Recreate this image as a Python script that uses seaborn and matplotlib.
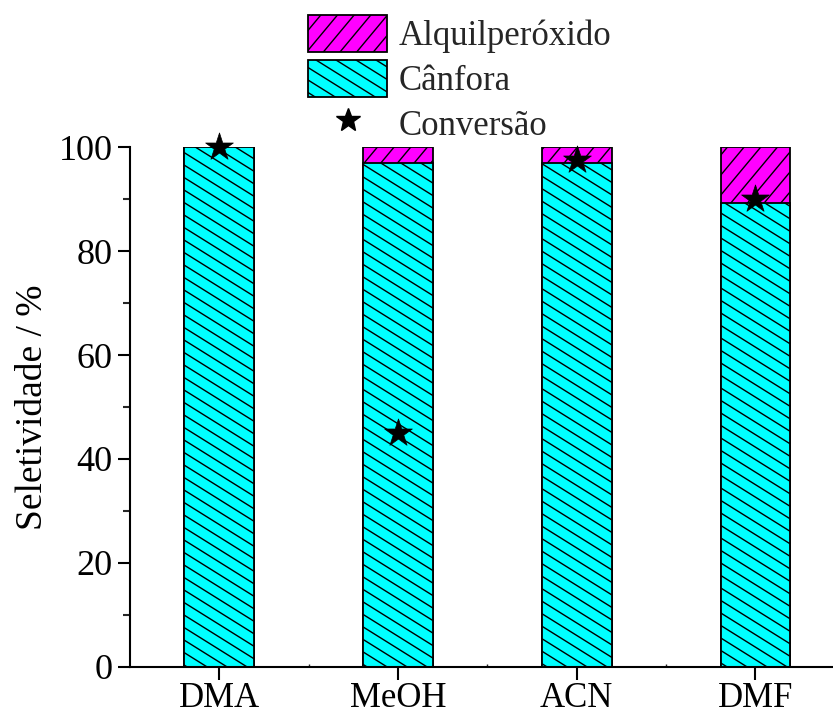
import warnings
import functools
import numpy as np
import matplotlib
matplotlib.use("Agg")
import matplotlib.pyplot as plt
import matplotlib.hatch as mhatch
from matplotlib.path import Path
import seaborn as sns
import pandas as pd
from matplotlib.patches import Patch
from matplotlib.lines import Line2D
from matplotlib.ticker import MultipleLocator, FixedLocator

warnings.filterwarnings("ignore")

# Selectivity per solvent (%)
solventes = ["DMA", "MeOH", "ACN", "DMF"]
canfora = [100.0, 97.0, 97.0, 89.3]
alquilperoxido = [0.0, 3.0, 3.0, 10.7]
conversao = [100.0, 45.0, 97.5, 90.0]

df = pd.DataFrame({
    "solvente": solventes,
    "canfora": canfora,
    "total": [c + a for c, a in zip(canfora, alquilperoxido)],
    "conversao": conversao,
})


class SlantHatch(mhatch.HatchPatternBase):
    """Periodic slanted hatch: n lines per tile height, slope m/n (sign sets direction)."""

    def __init__(self, hatch, density, char="c", n=10, m=6, sign=-1):
        self.n, self.m, self.sign = n, m, sign
        self.num_lines = (n + m + 1) if char in hatch else 0
        self.num_vertices = 2 * self.num_lines

    def set_vertices_and_codes(self, vertices, codes):
        n, m, sign = self.n, self.m, self.sign
        s = m / n
        if sign < 0:
            cs = np.arange(0, n + m + 1) / n
        else:
            cs = np.arange(-m, n + 1) / n
        vertices[0::2, 0] = 0.0
        vertices[0::2, 1] = cs
        vertices[1::2, 0] = 1.0
        vertices[1::2, 1] = cs + sign * s
        codes[0::2] = Path.MOVETO
        codes[1::2] = Path.LINETO


mhatch._hatch_types.append(functools.partial(SlantHatch, char="c", n=8, m=5, sign=-1))
mhatch._hatch_types.append(functools.partial(SlantHatch, char="m", n=5, m=6, sign=1))

sns.set_theme(style="ticks")
plt.rcParams["font.family"] = ["Liberation Serif", "DejaVu Serif"]
plt.rcParams["hatch.linewidth"] = 1.0

fig = plt.figure(figsize=(8.33, 7.14), dpi=100)
ax = fig.add_axes([0.156, 0.066, 0.844, 0.728])

magenta = "#ff00ff"
ciano = "#00ffff"

# stacked bars: total (alquilperóxido on top) drawn first, cânfora over it
sns.barplot(data=df, x="solvente", y="total", color=magenta, saturation=1,
            width=0.39, edgecolor="black", linewidth=1.3, ax=ax)
n = len(ax.patches)
sns.barplot(data=df, x="solvente", y="canfora", color=ciano, saturation=1,
            width=0.39, edgecolor="black", linewidth=1.3, ax=ax)
for i, p in enumerate(ax.patches):
    p.set_hatch("m" if i < n else "c")

sns.scatterplot(data=df, x="solvente", y="conversao", marker="*", s=440,
                color="black", edgecolor="black", linewidth=0.5, zorder=5,
                clip_on=False, ax=ax, legend=False)

ax.set_ylim(0, 100)
ax.set_xlim(-0.5, 3.434)
ax.yaxis.set_major_locator(MultipleLocator(20))
ax.yaxis.set_minor_locator(MultipleLocator(10))
ax.xaxis.set_minor_locator(FixedLocator([0.5, 1.5, 2.5]))
ax.tick_params(axis="y", which="major", direction="out", length=9,
               width=1.5, labelsize=26, colors="black")
ax.tick_params(axis="x", which="major", direction="out", length=9,
               width=1.5, labelsize=25, colors="black", pad=2)
ax.tick_params(axis="y", which="minor", direction="out", length=5, width=1.5)
ax.tick_params(axis="x", which="minor", direction="in", length=2, width=1)
ax.set_xlabel("")
ax.set_ylabel("Seletividade / %", fontsize=27, color="black", labelpad=6)
for s in ["top", "right"]:
    ax.spines[s].set_visible(False)
for s in ["left", "bottom"]:
    ax.spines[s].set_linewidth(1.5)
    ax.spines[s].set_color("black")

handles = [
    Patch(facecolor=magenta, edgecolor="black", hatch="m", linewidth=1.3),
    Patch(facecolor=ciano, edgecolor="black", hatch="c", linewidth=1.3),
    Line2D([], [], marker="*", linestyle="none", color="black", markersize=18),
]
fig.legend(handles, ["Alquilperóxido", "Cânfora", "Conversão"],
           loc="upper left", bbox_to_anchor=(0.370, 0.979), frameon=False,
           prop={"family": "Liberation Serif", "size": 25},
           borderpad=0, borderaxespad=0, handlelength=2.28,
           handleheight=1.25, handletextpad=0.33, labelspacing=0.2)

fig.savefig("out.png", dpi=100)
